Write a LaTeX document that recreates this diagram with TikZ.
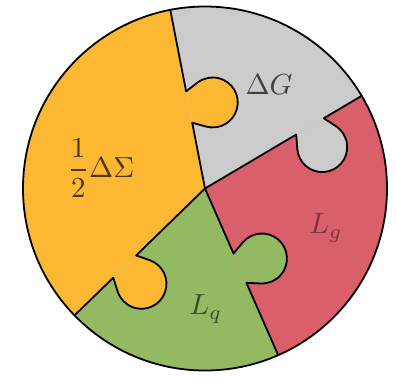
\documentclass[tikz,border=0pt]{standalone}
\definecolor{cOr}{HTML}{FDB833}
\definecolor{cGy}{HTML}{CBCBCB}
\definecolor{cRd}{HTML}{D9606A}
\definecolor{cGn}{HTML}{93BA62}
\newcommand\knobpath[1]{(#1-16,0) -- (#1-22.4,12.9) arc[start angle=206.4,end angle=-26.4,radius=25] -- (#1+16,0)}
\tikzset{
  edgeline/.style={line width=1.8pt, line join=round, line cap=round},
  lbl/.style={scale=2.9, inner sep=0pt}
}
\begin{document}
\begin{tikzpicture}[x=1pt,y=1pt]
\useasboundingbox (0,0) rectangle (396,-376);
\coordinate (C) at (205,-188.5);
\def\R{182}
% sectors
\fill[cOr] (C) -- ++(101:\R) arc[start angle=101, end angle=224.2, radius=\R] -- cycle;
\fill[cGn] (C) -- ++(224.2:\R) arc[start angle=224.2, end angle=293.7, radius=\R] -- cycle;
\fill[cRd] (C) -- ++(-66.3:\R) arc[start angle=-66.3, end angle=30.6, radius=\R] -- cycle;
\fill[cGy] (C) -- ++(30.6:\R) arc[start angle=30.6, end angle=101, radius=\R] -- cycle;
% knobs
\begin{scope}[shift={(C)}, rotate=101, yscale=-1]
  \fill[cOr] \knobpath{83} -- cycle;
\end{scope}
\begin{scope}[shift={(C)}, rotate=30.6, yscale=-1]
  \fill[cGy] \knobpath{122} -- cycle;
\end{scope}
\begin{scope}[shift={(C)}, rotate=-66.3]
  \fill[cGn] \knobpath{87} -- cycle;
\end{scope}
\begin{scope}[shift={(C)}, rotate=224.2]
  \fill[cOr] \knobpath{112} -- cycle;
\end{scope}
% boundary lines
\begin{scope}[shift={(C)}, rotate=101, yscale=-1]
  \draw[edgeline] (0,0) -- \knobpath{83} -- (\R,0);
\end{scope}
\begin{scope}[shift={(C)}, rotate=30.6, yscale=-1]
  \draw[edgeline] (0,0) -- \knobpath{122} -- (\R,0);
\end{scope}
\begin{scope}[shift={(C)}, rotate=-66.3]
  \draw[edgeline] (0,0) -- \knobpath{87} -- (\R,0);
\end{scope}
\begin{scope}[shift={(C)}, rotate=224.2]
  \draw[edgeline] (0,0) -- \knobpath{112} -- (\R,0);
\end{scope}
\node[draw, edgeline, circle, minimum size=364pt, inner sep=0pt] (rim) at (C) {};
% labels
\node[lbl, text=cOr!30!black] (sig) at (101,-168) {$\displaystyle\frac{1}{2}\Delta\Sigma$};
\node[lbl, text=black!75] (dg) at (269,-85) {$\Delta G$};
\node[lbl, text=cRd!55!black] (lg) at (326,-228) {$L_g$};
\node[lbl, text=cGn!40!black] (lq) at (206,-309) {$L_q$};
\end{tikzpicture}
\end{document}
